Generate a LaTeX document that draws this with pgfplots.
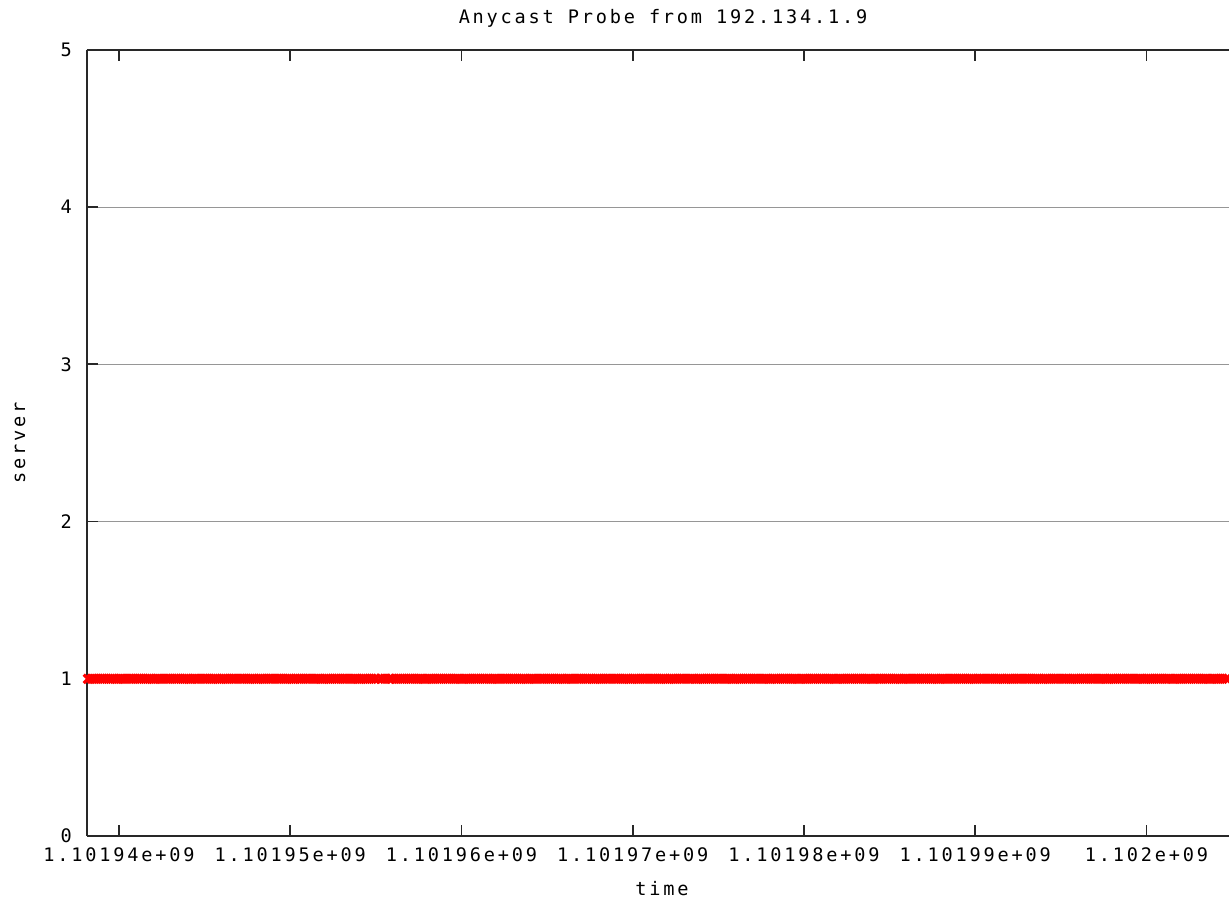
\documentclass[border=0pt]{standalone}
\usepackage{fontspec}
\usepackage{pgfplots}
\usepackage{pgfplotstable}
\pgfplotsset{compat=1.18}
\newfontfamily\gp[LetterSpace=15]{DejaVu Sans Mono}
\definecolor{gridgray}{RGB}{150,150,150}
\definecolor{axisgray}{RGB}{40,40,40}

% probe times in seconds (offset by 1.1019e9) and the server that answered
\pgfplotstableread{
t s
38190 1
38430 1
38670 1
38910 1
39150 1
39390 1
39630 1
39870 1
40110 1
40350 1
40590 1
40830 1
41070 1
41310 1
41550 1
41790 1
42030 1
42270 1
42510 1
42750 1
42990 1
43230 1
43470 1
43710 1
43950 1
44190 1
44430 1
44670 1
44910 1
45150 1
45390 1
45630 1
45870 1
46110 1
46350 1
46590 1
46830 1
47070 1
47310 1
47550 1
47790 1
48030 1
48270 1
48510 1
48750 1
48990 1
49230 1
49470 1
49710 1
49950 1
50190 1
50430 1
50670 1
50910 1
51150 1
51390 1
51630 1
51870 1
52110 1
52350 1
52590 1
52830 1
53070 1
53310 1
53550 1
53790 1
54030 1
54270 1
54510 1
54750 1
54990 1
55290 1
55530 1
55770 1
55950 1
56190 1
56430 1
56670 1
56910 1
57150 1
57390 1
57630 1
57870 1
58110 1
58350 1
58590 1
58830 1
59070 1
59310 1
59550 1
59790 1
60030 1
60270 1
60510 1
60750 1
60990 1
61230 1
61470 1
61710 1
61950 1
62190 1
62430 1
62670 1
62910 1
63150 1
63390 1
63630 1
63870 1
64110 1
64350 1
64590 1
64830 1
65070 1
65310 1
65550 1
65790 1
66030 1
66270 1
66510 1
66750 1
66990 1
67230 1
67470 1
67710 1
67950 1
68190 1
68430 1
68670 1
68910 1
69150 1
69390 1
69630 1
69870 1
70110 1
70350 1
70590 1
70830 1
71070 1
71310 1
71550 1
71790 1
72030 1
72270 1
72510 1
72750 1
72990 1
73230 1
73470 1
73710 1
73950 1
74190 1
74430 1
74670 1
74910 1
75150 1
75390 1
75630 1
75870 1
76110 1
76350 1
76590 1
76830 1
77070 1
77310 1
77550 1
77790 1
78030 1
78270 1
78510 1
78750 1
78990 1
79230 1
79470 1
79710 1
79950 1
80190 1
80430 1
80670 1
80910 1
81150 1
81390 1
81630 1
81870 1
82110 1
82350 1
82590 1
82830 1
83070 1
83310 1
83550 1
83790 1
84030 1
84270 1
84510 1
84750 1
84990 1
85230 1
85470 1
85710 1
85950 1
86190 1
86430 1
86670 1
86910 1
87150 1
87390 1
87630 1
87870 1
88110 1
88350 1
88590 1
88830 1
89070 1
89310 1
89550 1
89790 1
90030 1
90270 1
90510 1
90750 1
90990 1
91230 1
91470 1
91710 1
91950 1
92190 1
92430 1
92670 1
92910 1
93150 1
93390 1
93630 1
93870 1
94110 1
94350 1
94590 1
94830 1
95070 1
95310 1
95550 1
95790 1
96030 1
96270 1
96510 1
96750 1
96990 1
97230 1
97470 1
97710 1
97950 1
98190 1
98430 1
98670 1
98910 1
99150 1
99390 1
99630 1
99870 1
100110 1
100350 1
100590 1
100830 1
101070 1
101310 1
101550 1
101790 1
102030 1
102270 1
102510 1
102750 1
102990 1
103230 1
103470 1
103710 1
103950 1
104190 1
104430 1
104670 1
104910 1
}\probes

\begin{document}
\begin{tikzpicture}
\begin{axis}[
  scale only axis,
  width=571pt, height=393pt,
  xmin=38132, xmax=104820,
  ymin=0, ymax=5,
  axis x line*=box,
  axis y line*=left,
  axis line style={axisgray, line width=0.9pt},
  scaled x ticks=false,
  xtick={40000,50000,60000,70000,80000,90000,100000},
  xticklabels={1.10194e+09,1.10195e+09,1.10196e+09,1.10197e+09,1.10198e+09,1.10199e+09,1.102e+09},
  ytick={0,1,2,3,4,5},
  yticklabels={0,1,2,3,4,5},
  xtick pos=both,
  ytick pos=left,
  tick align=inside,
  major tick length=5.5pt,
  major tick style={axisgray, line width=0.9pt},
  ymajorgrids,
  major grid style={gridgray, line width=0.6pt},
  tick label style={font=\gp\fontsize{9.3}{10}\selectfont},
  xticklabel style={yshift=-2.5pt},
  yticklabel style={xshift=-4pt},
]
\addplot[only marks, mark=x, mark size=3pt, red, line width=1.6pt]
  table[x=t, y=s] {\probes};
\end{axis}
\node[font=\gp\fontsize{9.3}{10}\selectfont] at ([xshift=2.5pt,yshift=16pt]current axis.north) {Anycast Probe from 192.134.1.9};
\node[font=\gp\fontsize{9.3}{10}\selectfont] at ([xshift=2pt,yshift=-26.5pt]current axis.south) {time};
\node[font=\gp\fontsize{9.3}{10}\selectfont, rotate=90] at ([xshift=-33.5pt]current axis.west) {server};
\pgfresetboundingbox
\path ([xshift=-43.5pt,yshift=-32.5pt]current axis.south west) rectangle ([yshift=25pt]current axis.north east);
\end{tikzpicture}
\end{document}
